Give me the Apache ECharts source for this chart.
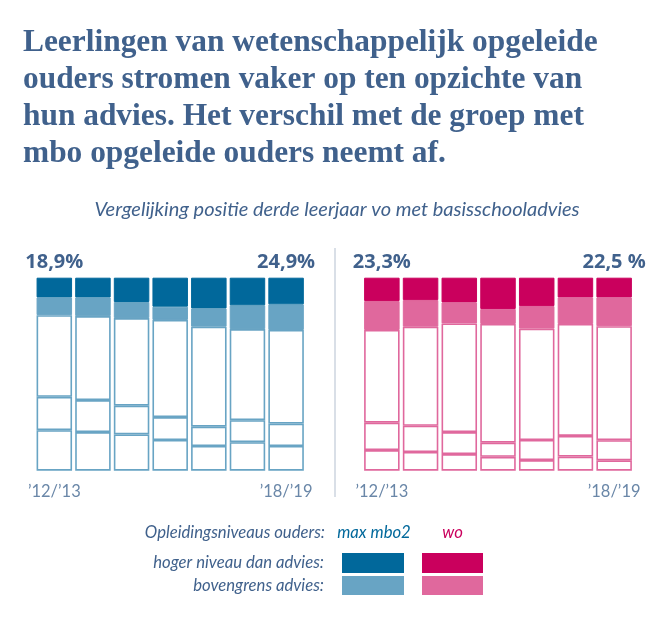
<!DOCTYPE html>
<html>
<head>
<meta charset="utf-8">
<script src="https://cdn.jsdelivr.net/npm/echarts@6/dist/echarts.min.js"></script>
<style>
  html, body { margin: 0; padding: 0; background: #ffffff; }
  #chart { width: 670px; height: 621px; }
</style>
</head>
<body>
<div id="chart"></div>
<script>
// ---- data (percent of pupils, bottom-to-top segments) ----
const years = ['’12/’13', '’13/’14', '’14/’15', '’15/’16', '’16/’17', '’17/’18', '’18/’19'];

// max mbo2 opgeleide ouders
const mboHoger      = [10.2, 10.2, 12.6, 15.0, 15.9, 14.3, 13.8];
const mboBovengrens = [9.2, 9.7, 8.3, 6.9, 9.5, 12.3, 13.3];
const mboAdvies     = [42.3, 43.5, 45.4, 50.3, 51.8, 47.2, 48.5];
const mboOndergrens = [17.3, 16.6, 14.9, 11.9, 10.0, 11.4, 11.6];
const mboLager      = [21.0, 20.0, 18.8, 15.9, 12.8, 14.8, 12.8];
const mboTopLabels  = ['18,9%', '', '', '', '', '', '24,9%'];

// wo opgeleide ouders
const woHoger       = [12.1, 11.6, 12.8, 16.2, 14.7, 10.2, 10.2];
const woBovengrens  = [15.0, 13.8, 10.9, 7.8, 11.7, 13.8, 14.9];
const woAdvies      = [48.0, 51.3, 56.3, 61.5, 57.7, 58.0, 59.1];
const woOndergrens  = [14.2, 13.6, 11.4, 7.3, 10.4, 10.7, 10.4];
const woLager       = [10.7, 9.7, 8.6, 7.2, 5.5, 7.3, 5.4];
const woTopLabels   = ['23,3%', '', '', '', '', '', '22,5 %'];

// ---- styling ----
const TEXT = '#40618c';
const DARK_BLUE = '#01689b', LIGHT_BLUE = '#68a4c4';
const DARK_PINK = '#ca005d', LIGHT_PINK = '#e0689d';
const SANS = 'Lato, "Open Sans", sans-serif';
const LEG_FONT = 'italic 16.7px ' + SANS;
const BAR_W = 35.5;

function whiteSeg(name, data, idx, border) {
  return {
    name, type: 'bar', stack: 's' + idx, xAxisIndex: idx, yAxisIndex: idx,
    data, barWidth: BAR_W, silent: true,
    itemStyle: { color: '#ffffff', borderColor: border, borderWidth: 1.6 }
  };
}
function colorSeg(name, data, idx, color, labels) {
  const s = {
    name, type: 'bar', stack: 's' + idx, xAxisIndex: idx, yAxisIndex: idx,
    data, barWidth: BAR_W, silent: true,
    itemStyle: { color, borderColor: color, borderWidth: 1 }
  };
  if (labels) {
    s.label = {
      show: true, position: 'top', distance: 5,
      formatter: p => labels[p.dataIndex],
      fontFamily: '"Open Sans", sans-serif', fontWeight: 'bold', fontSize: 20, color: TEXT
    };
  }
  return s;
}

const xAxisBase = {
  type: 'category', data: years,
  axisLine: { show: false }, axisTick: { show: false },
  axisLabel: {
    interval: 0, margin: 12,
    formatter: (v, i) => (i === 0 || i === years.length - 1) ? v : '',
    fontFamily: SANS, fontSize: 16.5, color: '#6a87a8'
  }
};
const yAxisBase = { type: 'value', min: 0, max: 100, show: false };

const chart = echarts.init(document.getElementById('chart'), null, { renderer: 'canvas' });
chart.setOption({
  backgroundColor: '#ffffff',
  animation: false,
  title: [
    {
      text: 'Leerlingen van wetenschappelijk opgeleide\nouders stromen vaker op ten opzichte van\nhun advies. Het verschil met de groep met\nmbo opgeleide ouders neemt af.',
      left: 23, top: 24, padding: 0,
      textStyle: { fontFamily: '"Liberation Serif", serif', fontWeight: 'bold', fontSize: 31.4, lineHeight: 37, color: TEXT }
    },
    {
      text: 'Vergelijking positie derde leerjaar vo met basisschooladvies',
      left: 337, top: 198, padding: 0, textAlign: 'center',
      textStyle: { fontFamily: SANS, fontStyle: 'italic', fontWeight: 'normal', fontSize: 20, lineHeight: 24, color: TEXT }
    }
  ],
  grid: [
    { left: 35, top: 277.7, width: 270.4, height: 193 },
    { left: 362.5, top: 277.7, width: 271, height: 193 }
  ],
  xAxis: [Object.assign({ gridIndex: 0 }, xAxisBase), Object.assign({ gridIndex: 1 }, xAxisBase)],
  yAxis: [Object.assign({ gridIndex: 0 }, yAxisBase), Object.assign({ gridIndex: 1 }, yAxisBase)],
  series: [
    whiteSeg('lager dan advies (max mbo2)', mboLager, 0, LIGHT_BLUE),
    whiteSeg('ondergrens advies (max mbo2)', mboOndergrens, 0, LIGHT_BLUE),
    whiteSeg('binnen advies (max mbo2)', mboAdvies, 0, LIGHT_BLUE),
    colorSeg('bovengrens advies (max mbo2)', mboBovengrens, 0, LIGHT_BLUE),
    colorSeg('hoger niveau dan advies (max mbo2)', mboHoger, 0, DARK_BLUE, mboTopLabels),
    whiteSeg('lager dan advies (wo)', woLager, 1, LIGHT_PINK),
    whiteSeg('ondergrens advies (wo)', woOndergrens, 1, LIGHT_PINK),
    whiteSeg('binnen advies (wo)', woAdvies, 1, LIGHT_PINK),
    colorSeg('bovengrens advies (wo)', woBovengrens, 1, LIGHT_PINK),
    colorSeg('hoger niveau dan advies (wo)', woHoger, 1, DARK_PINK, woTopLabels)
  ],
  graphic: [
    // divider between the panels
    { type: 'line', shape: { x1: 335, y1: 248, x2: 335, y2: 497 }, style: { stroke: '#ccd5df', lineWidth: 1.5 }, silent: true },
    // legend
    { type: 'text', x: 325, y: 533, style: { text: 'Opleidingsniveaus ouders:', fill: TEXT, font: LEG_FONT, textAlign: 'right', textVerticalAlign: 'middle' } },
    { type: 'text', x: 374, y: 533, style: { text: 'max mbo2', fill: DARK_BLUE, font: LEG_FONT, textAlign: 'center', textVerticalAlign: 'middle' } },
    { type: 'text', x: 452.5, y: 533, style: { text: 'wo', fill: DARK_PINK, font: LEG_FONT, textAlign: 'center', textVerticalAlign: 'middle' } },
    { type: 'text', x: 324, y: 563, style: { text: 'hoger niveau dan advies:', fill: TEXT, font: LEG_FONT, textAlign: 'right', textVerticalAlign: 'middle' } },
    { type: 'text', x: 324, y: 586, style: { text: 'bovengrens advies:', fill: TEXT, font: LEG_FONT, textAlign: 'right', textVerticalAlign: 'middle' } },
    { type: 'rect', shape: { x: 342, y: 553, width: 62, height: 20 }, style: { fill: DARK_BLUE } },
    { type: 'rect', shape: { x: 342, y: 576, width: 62, height: 19 }, style: { fill: LIGHT_BLUE } },
    { type: 'rect', shape: { x: 422, y: 553, width: 61, height: 20 }, style: { fill: DARK_PINK } },
    { type: 'rect', shape: { x: 422, y: 576, width: 61, height: 19 }, style: { fill: LIGHT_PINK } }
  ]
});
</script>
</body>
</html>
